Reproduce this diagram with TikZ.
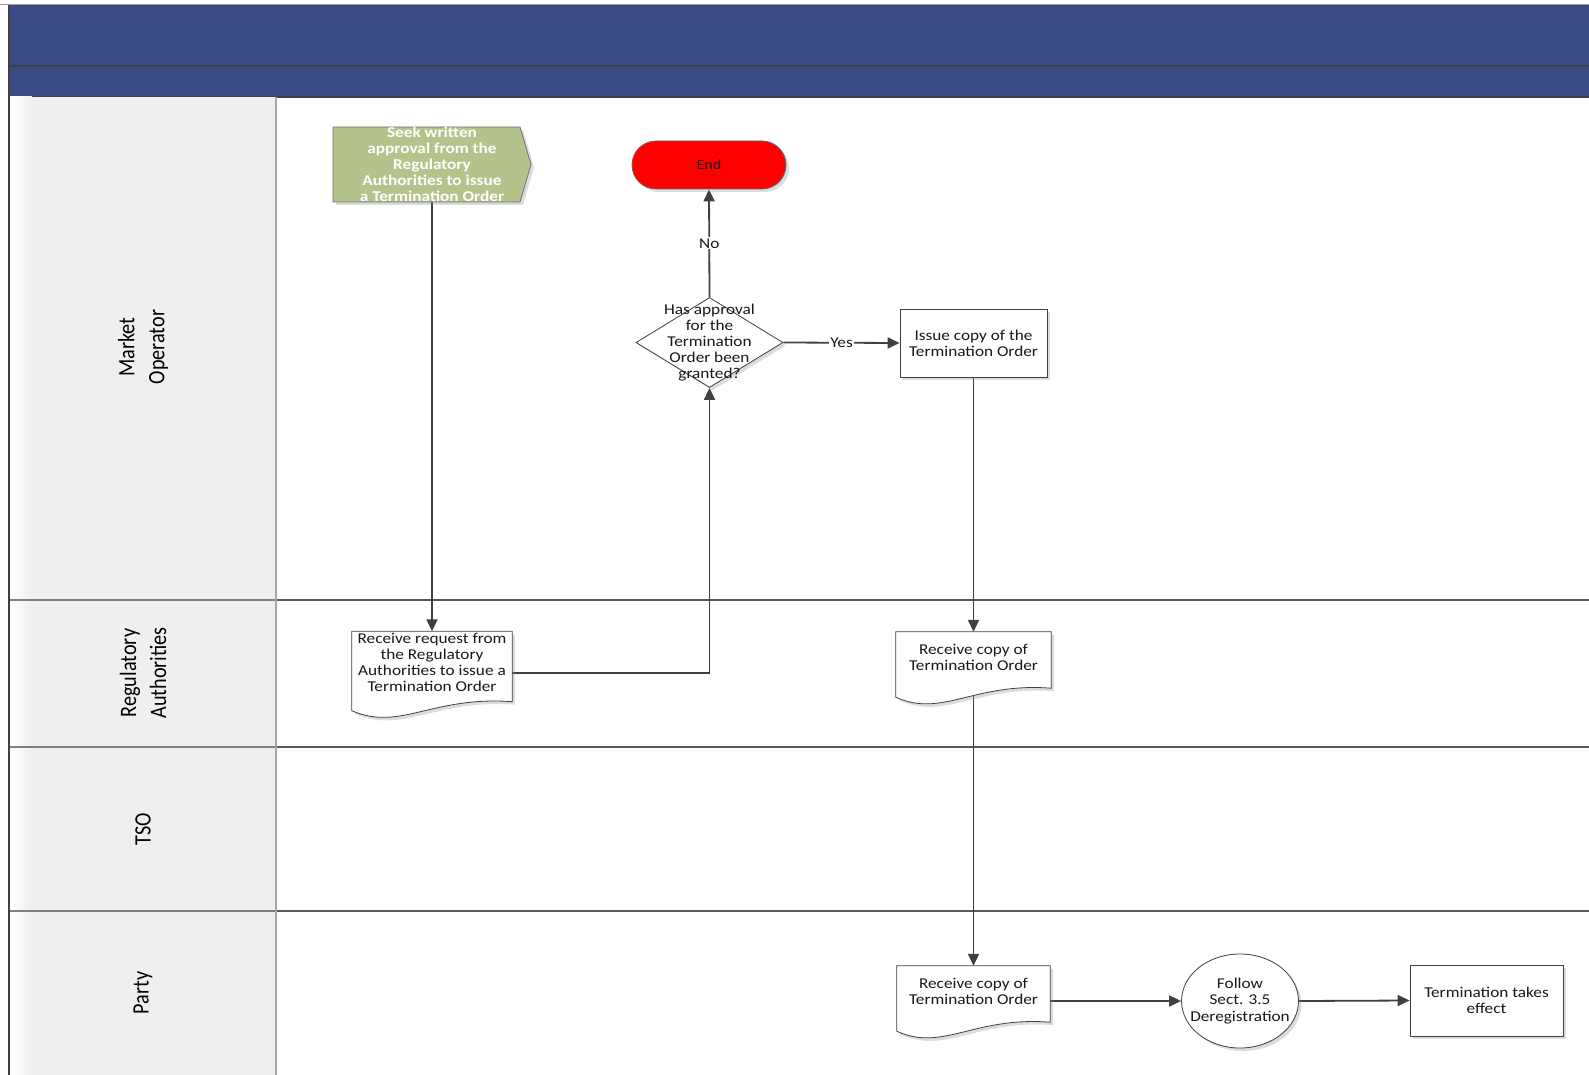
\documentclass[tikz,border=0pt]{standalone}
\usepackage{fontspec}
\setmainfont{Carlito}
\newfontfamily\nodefont[FakeStretch=1.15]{Carlito}
\newfontfamily\lanefont[FakeStretch=0.86]{Carlito}
\usetikzlibrary{shapes.geometric,shapes.misc,arrows.meta,shadows,calc}
\pgfdeclarelayer{bg}\pgfdeclarelayer{conn}\pgfdeclarelayer{shp}
\pgfsetlayers{bg,conn,shp,main}
\definecolor{hdrblue}{HTML}{3B4C85}
\definecolor{laneg}{HTML}{EFEFEF}
\definecolor{seekg}{HTML}{B4C38C}
\definecolor{lnc}{HTML}{404040}
\tikzset{
 ntext/.style={font=\nodefont\fontsize{15}{16.2}\selectfont, align=center, text=black!90, inner sep=0pt},
 shd/.style={drop shadow={shadow xshift=3pt, shadow yshift=-3pt, opacity=0.3, fill=black!45}},
 boxnode/.style={ntext, draw=lnc, line width=0.8pt, fill=white, shd, minimum width=#1},
 docnode/.style={ntext, minimum width=#1},
 docline/.style={draw=lnc, line width=0.8pt, fill=white, shd},
 flow/.style={draw=lnc, line width=1.8pt, -{Triangle[length=12pt,width=11pt]}},
 lbl/.style={ntext, fill=white, inner xsep=1pt, inner ysep=1pt},
 lanelbl/.style={font=\lanefont\fontsize{23.5}{30}\selectfont, align=center, rotate=90, text=black},
}
% #1 node name, #2 width, #3 extra depth of the right-hand corner below the node
\newcommand\docshape[3]{\draw[docline] (#1.north west) -- (#1.north east) -- ([yshift=-#3pt]#1.south east) .. controls ([xshift=-0.5*#2pt,yshift=-#3pt+6pt]#1.south east) and ([xshift=0.3*#2pt,yshift=-#3pt-30pt]#1.south west) .. ([yshift=-#3pt-9pt]#1.south west) -- cycle;}
\begin{document}
\begin{tikzpicture}[x=1pt,y=-1pt]
\useasboundingbox (0,0) rectangle (1589,1075);
\begin{pgfonlayer}{bg}
 \fill[white] (0,0) rectangle (1589,1075);
 \fill[hdrblue] (9,5) rectangle (1589,97);
 \draw[black!40, line width=1pt] (0,4.5) -- (1589,4.5);
 \draw[lnc, line width=1.5pt] (9,66) -- (1589,66);
 \draw[lnc, line width=1.5pt] (9,97) -- (1589,97);
 \fill[laneg] (9,97) rectangle (276,1075);
 \shade[left color=white, right color=laneg] (10,97) rectangle (32,1075);
 \foreach \yy in {600,747,911}{
   \draw[black!50, line width=1.5pt] (9,\yy) -- (276,\yy);
   \draw[black!65, line width=1.5pt] (276,\yy) -- (1589,\yy);
 }
 \draw[black!35, line width=1.2pt] (276,97) -- (276,1075);
 \draw[lnc, line width=2pt] (9,5) -- (9,1075);
\end{pgfonlayer}

% lane labels
\node[lanelbl] (lmo) at (143,347) {Market\\Operator};
\node[lanelbl] (lra) at (143,673) {Regulatory\\Authorities};
\node[lanelbl] (ltso) at (143,829) {TSO};
\node[lanelbl] (lparty) at (143,993) {Party};

% seek
\node[ntext, font=\nodefont\bfseries\fontsize{15}{16}\selectfont, text=white, minimum width=198, minimum height=75] (seek) at (432,164.5) {Seek written\\approval from the\\Regulatory\\Authorities to issue\\a Termination Order};
\begin{pgfonlayer}{shp}
\draw[draw=black!55, line width=0.8pt, fill=seekg, shd] ([shift={(-99,-37.5)}]seek.center) -- ([shift={(88,-37.5)}]seek.center) -- ([shift={(99,0)}]seek.center) -- ([shift={(88,37.5)}]seek.center) -- ([shift={(-99,37.5)}]seek.center) -- cycle;
\end{pgfonlayer}

% end
\node[ntext, font=\nodefont\fontsize{14}{15}\selectfont, draw=black!60, line width=0.8pt, fill=red, rounded rectangle, minimum width=154, minimum height=48, shd] (end) at (709,165) {End};

% decision
\node[diamond, draw=lnc, line width=0.8pt, fill=white, shd, minimum width=147, minimum height=90, inner sep=0pt] (dec) at (709.5,342.5) {};
\node[ntext] (dectext) at (dec.center) {Has approval\\for the\\Termination\\Order been\\granted?};

% issue
\node[boxnode=147, minimum height=68] (issue) at (973.5,343) {Issue copy of the\\Termination Order};

% documents
\node[docnode=160, minimum height=62] (req) at (432,662.5) {Receive request from\\the Regulatory\\Authorities to issue a\\Termination Order};
\node[docnode=155, minimum height=50] (racopy) at (973.5,657) {Receive copy of\\Termination Order};
\node[docnode=153, minimum height=50] (pcopy) at (973.5,991) {Receive copy of\\Termination Order};
\begin{pgfonlayer}{shp}
\docshape{req}{160}{8}
\docshape{racopy}{155}{6}
\docshape{pcopy}{153}{6}
\end{pgfonlayer}

% follow
\node[ellipse, draw=lnc, line width=0.8pt, fill=white, shd, minimum width=117, minimum height=94, inner sep=0pt] (follow) at (1240,1001) {};
\node[ntext] (followtext) at (follow.center) {Follow\\Sect. 3.5\\Deregistration};

% termination
\node[boxnode=153, minimum height=71] (term) at (1486.5,1000.5) {Termination takes\\effect};

% connectors
\begin{pgfonlayer}{conn}
\draw[flow] (seek.south) -- (req.north);
\draw[flow] ([yshift=-10.5pt]req.east) -| (dec.south);
\draw[flow] (dec.north) -- node[lbl] {No} (end.south);
\draw[flow] (dec.east) -- node[lbl] {Yes} (issue.west);
\draw[flow] (issue.south) -- (racopy.north);
\draw[flow] (racopy.south) -- (pcopy.north);
\draw[flow] ([yshift=-10pt]pcopy.east) -- (follow.west);
\draw[flow] (follow.east) -- (term.west);
\end{pgfonlayer}
\end{tikzpicture}
\end{document}
